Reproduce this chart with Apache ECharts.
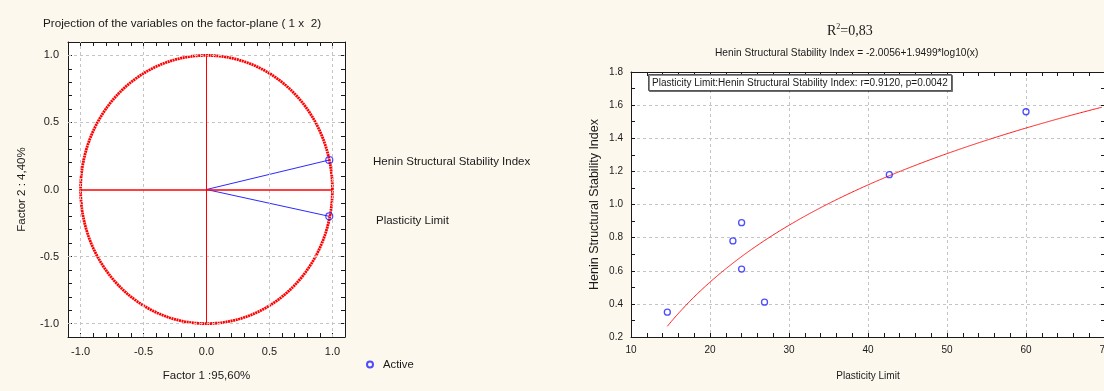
<!DOCTYPE html>
<html>
<head>
<meta charset="utf-8">
<script src="https://cdn.jsdelivr.net/npm/echarts@6/dist/echarts.min.js"></script>
<style>
  html, body { margin: 0; padding: 0; background: #fcf8ee; }
  #chart { width: 1104px; height: 391px; }
</style>
</head>
<body>
<div id="chart"></div>
<script>
// Loadings of the variables on the factor plane (1 x 2)
const variableNames = ['Henin Structural Stability Index', 'Plasticity Limit'];
const factor1Loadings = [0.975, 0.975];
const factor2Loadings = [0.22, -0.20];
const factorGridValues = [-1.0, -0.5, 0.5, 1.0];

// Plasticity limit against the Henin structural stability index
const plasticityLimit = [14.6, 22.9, 24.0, 24.0, 26.9, 42.7, 60.0];
const heninIndex = [0.35, 0.78, 0.89, 0.61, 0.41, 1.18, 1.56];
// Fitted model: HSSI = a + b*log10(PL)
const fitA = -2.0056;
const fitB = 1.9499;

const FONT = '"Liberation Sans", Arial, sans-serif';
const SERIF = '"Liberation Serif", "Times New Roman", serif';
const INK = '#1a1a1a';
const RED = '#ff0000';

// unit correlation circle
const unitCircle = [];
for (let k = 0; k <= 360; k++) {
  const t = k * Math.PI / 180;
  unitCircle.push([Math.cos(t), Math.sin(t)]);
}

// fitted curve from the first observation to the right edge of the axis
const fitCurve = [];
for (let x = Math.min(...plasticityLimit); x <= 70.001; x += 0.5) {
  fitCurve.push([x, fitA + fitB * Math.log10(x)]);
}

const isHalf = v => Math.abs(v * 2 - Math.round(v * 2)) < 1e-6;
const fmtHalf = v => isHalf(v) ? (Math.abs(v) < 1e-9 ? '0.0' : v.toFixed(1)) : '';

const boxLine = { show: true, onZero: false, lineStyle: { color: INK, width: 1 } };
const tickIn = { show: true, inside: true, length: 4, lineStyle: { color: INK, width: 1 } };
const dashGrid = { show: true, lineStyle: { color: '#c4c4c4', type: [3, 3], width: 1 } };

function leftTxt(size) { return { fontFamily: FONT, fontSize: size, color: INK }; }

const chart = echarts.init(document.getElementById('chart'), null, { renderer: 'canvas' });

const option = {
  backgroundColor: '#fcf8ee',
  animation: false,
  title: [
    { text: 'Projection of the variables on the factor-plane ( 1 x  2)', left: 43, top: 18, padding: 0,
      textStyle: { fontFamily: FONT, fontSize: 11.7, fontWeight: 'normal', color: INK } },
    { text: '{r|R}{s|2}{r|=0,83}', left: 827, top: 23, padding: 0,
      textStyle: { fontWeight: 'normal', rich: {
        r: { fontFamily: SERIF, fontSize: 14, fontWeight: 'normal', color: INK },
        s: { fontFamily: SERIF, fontSize: 8, fontWeight: 'normal', color: INK, padding: [0, 0, 8, 0] } } } },
    { text: 'Henin Structural Stability Index = -2.0056+1.9499*log10(x)', left: 715, top: 48, padding: 0,
      textStyle: { fontFamily: FONT, fontSize: 10.2, fontWeight: 'normal', color: INK } },
    { text: 'Plasticity Limit:Henin Structural Stability Index: r=0.9120, p=0.0042', left: 648, top: 74,
      padding: [4, 4, 3, 4], backgroundColor: '#ffffff', borderColor: '#555', borderWidth: 1,
      shadowColor: 'rgba(0,0,0,0.45)', shadowOffsetX: 1, shadowOffsetY: 1, shadowBlur: 0,
      textStyle: { fontFamily: FONT, fontSize: 10, fontWeight: 'normal', color: INK } }
  ],
  legend: {
    data: ['Active'], left: 366, top: 359, itemWidth: 6, itemHeight: 6, itemGap: 9,
    icon: 'circle', textStyle: { ...leftTxt(11.3), padding: [0, 0, 0, 5] }, padding: 0
  },
  grid: [
    { left: 68, top: 42, width: 277, height: 295, show: true, backgroundColor: '#ffffff', borderWidth: 0,
      outerBoundsMode: 'none', containLabel: false },
    { left: 631, top: 72, width: 474, height: 265, show: true, backgroundColor: '#ffffff', borderWidth: 0,
      outerBoundsMode: 'none', containLabel: false }
  ],
  xAxis: [
    { gridIndex: 0, type: 'value', position: 'bottom', min: -1.1, max: 1.1, interval: 0.1,
      axisLine: boxLine, axisTick: tickIn, splitLine: { show: false },
      axisLabel: { ...leftTxt(11), margin: 9, formatter: fmtHalf, showMinLabel: true, showMaxLabel: true },
      name: 'Factor 1 :95,60%', nameLocation: 'middle', nameGap: 33, nameTextStyle: leftTxt(11.5) },
    { gridIndex: 0, type: 'value', position: 'top', min: -1.1, max: 1.1, interval: 0.1,
      axisLine: boxLine, axisTick: tickIn, axisLabel: { show: false }, splitLine: { show: false } },
    { gridIndex: 1, type: 'value', position: 'bottom', min: 10, max: 70, interval: 10,
      axisLine: boxLine, axisTick: tickIn,
      minorTick: { show: true, splitNumber: 5, length: 4, lineStyle: { color: INK } },
      splitLine: dashGrid,
      axisLabel: { fontFamily: FONT, fontSize: 10, color: INK, margin: 8, showMaxLabel: true },
      name: 'Plasticity Limit', nameLocation: 'middle', nameGap: 34,
      nameTextStyle: { fontFamily: FONT, fontSize: 10, color: INK } },
    { gridIndex: 1, type: 'value', position: 'top', min: 10, max: 70, interval: 10,
      axisLine: boxLine, axisTick: tickIn,
      minorTick: { show: true, splitNumber: 5, length: 4, lineStyle: { color: INK } },
      axisLabel: { show: false }, splitLine: { show: false } }
  ],
  yAxis: [
    { gridIndex: 0, type: 'value', position: 'left', min: -1.1, max: 1.1, interval: 0.1,
      axisLine: boxLine, axisTick: tickIn, splitLine: { show: false },
      axisLabel: { ...leftTxt(11), margin: 9, formatter: fmtHalf, showMinLabel: true, showMaxLabel: true },
      name: 'Factor 2 : 4,40%', nameLocation: 'middle', nameGap: 40, nameTextStyle: leftTxt(11.5) },
    { gridIndex: 0, type: 'value', position: 'right', min: -1.1, max: 1.1, interval: 0.1,
      axisLine: boxLine, axisTick: tickIn, axisLabel: { show: false }, splitLine: { show: false } },
    { gridIndex: 1, type: 'value', position: 'left', min: 0.2, max: 1.8, interval: 0.2,
      axisLine: boxLine, axisTick: tickIn,
      minorTick: { show: true, splitNumber: 2, length: 4, lineStyle: { color: INK } },
      splitLine: dashGrid,
      axisLabel: { fontFamily: FONT, fontSize: 10, color: INK, margin: 8, formatter: v => v.toFixed(1) },
      name: 'Henin Structural Stability Index', nameLocation: 'middle', nameGap: 30,
      nameTextStyle: { fontFamily: FONT, fontSize: 12.5, color: INK } },
    { gridIndex: 1, type: 'value', position: 'right', min: 0.2, max: 1.8, interval: 0.2,
      axisLine: boxLine, axisTick: tickIn,
      minorTick: { show: true, splitNumber: 2, length: 4, lineStyle: { color: INK } },
      axisLabel: { show: false }, splitLine: { show: false } }
  ],
  series: [
    // dashed reference grid of the factor plane
    { type: 'line', xAxisIndex: 0, yAxisIndex: 0, data: [], silent: true, z: 1,
      markLine: { silent: true, symbol: 'none', label: { show: false }, animation: false,
        lineStyle: { color: '#c4c4c4', type: [3, 3], width: 1 },
        data: factorGridValues.map(v => ({ xAxis: v }))
          .concat(factorGridValues.map(v => ({ yAxis: v }))) } },
    // correlation circle
    { type: 'line', xAxisIndex: 0, yAxisIndex: 0, data: unitCircle, showSymbol: false, silent: true,
      color: RED, smooth: false, lineStyle: { color: RED, width: 2.8, type: [2, 0.6] }, z: 3 },
    // variable vectors
    ...variableNames.map((name, i) => ({
      type: 'line', xAxisIndex: 0, yAxisIndex: 0, name: name,
      data: [[0, 0], [factor1Loadings[i], factor2Loadings[i]]], showSymbol: false, silent: true,
      color: '#2a2aff', lineStyle: { color: '#2a2aff', width: 1 }, z: 4
    })),
    // red axes through the origin, drawn above the vectors
    { type: 'line', xAxisIndex: 0, yAxisIndex: 0, data: [], silent: true, z: 6, color: RED,
      markLine: { silent: true, symbol: 'none', label: { show: false }, animation: false,
        lineStyle: { color: RED, type: 'solid', width: 1 },
        data: [
          [{ coord: [-1, 0], lineStyle: { color: RED, width: 1.6 } }, { coord: [1, 0] }],
          [{ coord: [0, -1] }, { coord: [0, 1] }]
        ] } },
    { type: 'scatter', name: 'Active', xAxisIndex: 0, yAxisIndex: 0,
      data: variableNames.map((n, i) => [factor1Loadings[i], factor2Loadings[i]]),
      symbol: 'circle', symbolSize: 7,
      itemStyle: { color: 'rgba(255,255,255,0)', borderColor: '#2020ff', borderWidth: 1.2 }, z: 7 },
    // fitted logarithmic curve
    { type: 'line', xAxisIndex: 2, yAxisIndex: 2, data: fitCurve, showSymbol: false, silent: true,
      color: '#ff1a1a', smooth: true, lineStyle: { color: '#ff1a1a', width: 1 }, z: 3 },
    // observations
    { type: 'scatter', name: 'Observations', xAxisIndex: 2, yAxisIndex: 2,
      data: plasticityLimit.map((x, i) => [x, heninIndex[i]]),
      symbol: 'circle', symbolSize: 6,
      itemStyle: { color: 'rgba(255,255,255,0)', borderColor: '#2020ff', borderWidth: 1.3 }, z: 5 }
  ],
  graphic: [
    { type: 'text', left: 373, top: 156, silent: true,
      style: { text: variableNames[0], fontFamily: FONT, fontSize: 11.5, fill: INK } },
    { type: 'text', left: 376, top: 215, silent: true,
      style: { text: variableNames[1], fontFamily: FONT, fontSize: 11.5, fill: INK } }
  ]
};

chart.setOption(option);
</script>
</body>
</html>
